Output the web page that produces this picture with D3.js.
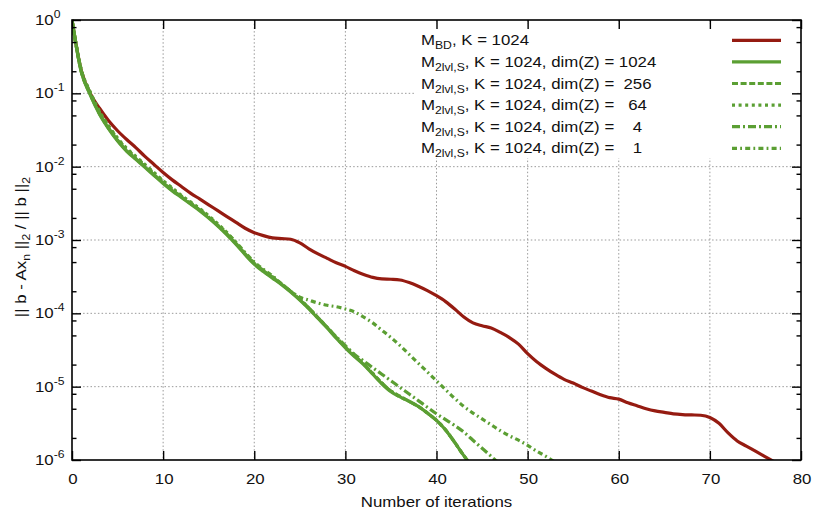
<!DOCTYPE html>
<html>
<head>
<meta charset="utf-8">
<script src="https://cdn.jsdelivr.net/npm/d3@7"></script>
<style>
  body { margin: 0; background: #fff; }
  text { font-family: "Liberation Sans", Arial, Helvetica, sans-serif; white-space: pre; fill: #111; }
</style>
</head>
<body>
<div id="chart"></div>
<script>
// Số liệu: log10 của phần dư tương đối theo từng bước lặp
const bdExp = [0, -0.68, -1.0, -1.2, -1.37, -1.51, -1.63, -1.74, -1.86, -1.97,
  -2.08, -2.18, -2.27, -2.36, -2.44, -2.52, -2.6, -2.68, -2.76, -2.84,
  -2.9, -2.94, -2.97, -2.98, -2.99, -3.04, -3.12, -3.19, -3.25, -3.31,
  -3.36, -3.42, -3.47, -3.51, -3.53, -3.535, -3.545, -3.58, -3.63, -3.69,
  -3.76, -3.84, -3.94, -4.05, -4.13, -4.17, -4.2, -4.26, -4.33, -4.42,
  -4.55, -4.66, -4.75, -4.83, -4.9, -4.95, -5.01, -5.06, -5.11, -5.15,
  -5.17, -5.22, -5.26, -5.3, -5.33, -5.35, -5.37, -5.38, -5.385, -5.39,
  -5.42, -5.5, -5.63, -5.74, -5.81, -5.88, -5.95, -6.02];
const dim1024Exp = [0, -0.7, -1.02, -1.28, -1.48, -1.65, -1.79, -1.9, -2.01, -2.12,
  -2.23, -2.33, -2.42, -2.51, -2.6, -2.7, -2.81, -2.93, -3.06, -3.2,
  -3.33, -3.43, -3.52, -3.61, -3.71, -3.82, -3.94, -4.07, -4.2, -4.34,
  -4.47, -4.59, -4.7, -4.83, -4.96, -5.07, -5.14, -5.2, -5.27, -5.36,
  -5.46, -5.59, -5.76, -5.94, -6.1];
const dim256Exp = [0, -0.69, -1.01, -1.27, -1.47, -1.64, -1.78, -1.89, -2.0, -2.11,
  -2.22, -2.32, -2.41, -2.5, -2.59, -2.69, -2.8, -2.92, -3.05, -3.19,
  -3.32, -3.42, -3.51, -3.6, -3.7, -3.81, -3.93, -4.06, -4.19, -4.33,
  -4.46, -4.58, -4.69, -4.82, -4.95, -5.06, -5.13, -5.2, -5.27, -5.36,
  -5.46, -5.59, -5.76, -5.94, -6.1];
const dim64Exp = [0, -0.67, -0.98, -1.24, -1.44, -1.61, -1.75, -1.86, -1.97, -2.08,
  -2.19, -2.29, -2.39, -2.48, -2.57, -2.67, -2.78, -2.9, -3.04, -3.18,
  -3.31, -3.41, -3.5, -3.6, -3.7, -3.81, -3.93, -4.06, -4.19, -4.33,
  -4.46, -4.58, -4.69, -4.82, -4.95, -5.06, -5.14, -5.2, -5.27, -5.36,
  -5.46, -5.59, -5.76, -5.94, -6.1];
const dim4Exp = [0, -0.69, -1.01, -1.27, -1.47, -1.64, -1.78, -1.89, -2.0, -2.11,
  -2.22, -2.32, -2.41, -2.5, -2.59, -2.69, -2.8, -2.92, -3.05, -3.19,
  -3.32, -3.42, -3.51, -3.6, -3.7, -3.81, -3.93, -4.06, -4.19, -4.32,
  -4.44, -4.56, -4.65, -4.74, -4.83, -4.92, -5.01, -5.1, -5.19, -5.28,
  -5.37, -5.45, -5.53, -5.62, -5.73, -5.84, -5.95, -6.06];
const dim1Exp = [0, -0.67, -0.99, -1.25, -1.45, -1.62, -1.76, -1.87, -1.98, -2.09,
  -2.2, -2.3, -2.4, -2.49, -2.58, -2.68, -2.79, -2.9, -3.03, -3.17,
  -3.3, -3.4, -3.49, -3.6, -3.7, -3.78, -3.82, -3.86, -3.89, -3.91,
  -3.94, -3.98, -4.05, -4.13, -4.23, -4.33, -4.44, -4.56, -4.68, -4.8,
  -4.92, -5.04, -5.16, -5.27, -5.36, -5.44, -5.52, -5.6, -5.67, -5.73,
  -5.8, -5.88, -5.95, -6.03];

// Nhãn chú giải
const legendSubs = ['BD', '2lvl,S', '2lvl,S', '2lvl,S', '2lvl,S', '2lvl,S'];
const legendRest = [', K = 1024', ', K = 1024, dim(Z) = 1024', ', K = 1024, dim(Z) =  256',
  ', K = 1024, dim(Z) =   64', ', K = 1024, dim(Z) =    4', ', K = 1024, dim(Z) =    1'];

// Nhãn trục
const xTicks = [0, 10, 20, 30, 40, 50, 60, 70, 80];
const yTicks = [1, 1e-1, 1e-2, 1e-3, 1e-4, 1e-5, 1e-6];
const yTickExp = ['0', '-1', '-2', '-3', '-4', '-5', '-6'];
const minorFactors = [2, 5, 8];

const RED = '#951b11', GREEN = '#5b9f33';
const series = [
  { exp: bdExp, color: RED, dash: null },
  { exp: dim1024Exp, color: GREEN, dash: null },
  { exp: dim256Exp, color: GREEN, dash: '6,2.6' },
  { exp: dim64Exp, color: GREEN, dash: '3,3.6' },
  { exp: dim4Exp, color: GREEN, dash: '8,3,2,3' },
  { exp: dim1Exp, color: GREEN, dash: '5,3.2,1.8,3.2' },
];

const W = 830, H = 515;
const L = 72, R = 801, T = 20, B = 460;
const FS = 14.5, SX = 1.16; // phông hơi giãn ngang giống bản gốc

const svg = d3.select('#chart').append('svg').attr('width', W).attr('height', H);

const x = d3.scaleLinear().domain([0, 80]).range([L, R]);
const y = d3.scaleLog().domain([1e-6, 1]).range([B, T]);

// Lưới chấm
const grid = svg.append('g').attr('stroke', '#9a9a9a').attr('stroke-width', 1).attr('stroke-dasharray', '1.5,2.2');
grid.selectAll('.gx').data(xTicks.slice(1, -1)).enter().append('line')
  .attr('x1', d => x(d)).attr('x2', d => x(d)).attr('y1', T).attr('y2', B);
grid.selectAll('.gy').data(yTicks.slice(1, -1)).enter().append('line')
  .attr('x1', L).attr('x2', R).attr('y1', d => y(d)).attr('y2', d => y(d));

// Nền trắng của chú giải
svg.append('rect').attr('x', 414).attr('y', 24).attr('width', 381).attr('height', 134).attr('fill', '#fff');

// Các đường cong
const clip = svg.append('clipPath').attr('id', 'plot-clip');
clip.append('rect').attr('x', L).attr('y', T - 2).attr('width', R - L).attr('height', B - T + 2);
const line = d3.line()
  .x((d, i) => x(i))
  .y(d => y(10 ** d))
  .curve(d3.curveMonotoneX);
const curves = svg.append('g').attr('clip-path', 'url(#plot-clip)');
series.forEach(s => {
  curves.append('path')
    .attr('d', line(s.exp))
    .attr('fill', 'none')
    .attr('stroke', s.color)
    .attr('stroke-width', 3.2)
    .attr('stroke-linejoin', 'round')
    .attr('stroke-dasharray', s.dash);
});

// Trục và vạch chia
const minorVals = [];
yTicks.slice(0, -1).forEach(t => minorFactors.forEach(f => minorVals.push(t / 10 * f)));
function styleAxis(g) {
  g.select('.domain').remove();
  g.selectAll('line').attr('stroke', '#000').attr('stroke-width', 1.4);
}
svg.append('g').attr('transform', `translate(0,${B})`)
  .call(d3.axisBottom(x).tickValues(xTicks).tickSize(-9).tickFormat('')).call(styleAxis);
svg.append('g').attr('transform', `translate(0,${T})`)
  .call(d3.axisTop(x).tickValues(xTicks).tickSize(-9).tickFormat('')).call(styleAxis);
svg.append('g').attr('transform', `translate(${L},0)`)
  .call(d3.axisLeft(y).tickValues(yTicks).tickSize(-9).tickFormat('')).call(styleAxis);
svg.append('g').attr('transform', `translate(${R},0)`)
  .call(d3.axisRight(y).tickValues(yTicks).tickSize(-9).tickFormat('')).call(styleAxis);
svg.append('g').attr('transform', `translate(${L},0)`)
  .call(d3.axisLeft(y).tickValues(minorVals).tickSize(-4.5).tickFormat('')).call(styleAxis);
svg.append('g').attr('transform', `translate(${R},0)`)
  .call(d3.axisRight(y).tickValues(minorVals).tickSize(-4.5).tickFormat('')).call(styleAxis);

svg.append('rect').attr('x', L).attr('y', T).attr('width', R - L).attr('height', B - T)
  .attr('fill', 'none').attr('stroke', '#000').attr('stroke-width', 1.6);

// Hàm tạo chữ có giãn ngang
function label(px, py, anchor, rotate) {
  return svg.append('g')
    .attr('transform', `translate(${px},${py})${rotate ? ' rotate(-90)' : ''} scale(${SX},1)`)
    .append('text').attr('text-anchor', anchor).attr('font-size', FS);
}

// Nhãn trục x
xTicks.forEach(t => label(x(t) + 1, 484, 'middle').text(t));

// Nhãn trục y dạng 10^k
yTicks.forEach((t, i) => {
  const tx = label(35, y(t) + 5, 'start');
  tx.append('tspan').text('10');
  tx.append('tspan').attr('font-size', 10.5).attr('dy', -7).text(yTickExp[i]);
});

// Tên trục
label(x(40), 507, 'middle').text('Number of iterations');
const yt = label(26, 247, 'middle', true);
yt.append('tspan').text('|| b - Ax');
yt.append('tspan').attr('font-size', 10.5).attr('dy', 3.5).text('n');
yt.append('tspan').attr('dy', -3.5).text(' ||');
yt.append('tspan').attr('font-size', 10.5).attr('dy', 3.5).text('2');
yt.append('tspan').attr('dy', -3.5).text(' / || b ||');
yt.append('tspan').attr('font-size', 10.5).attr('dy', 3.5).text('2');

// Chú giải
const rowY = d3.scaleLinear().domain([0, 5]).range([40.3, 148.3]);
series.forEach((s, i) => {
  const ry = rowY(i);
  const tx = label(421, ry + 5, 'start');
  tx.append('tspan').text('M');
  tx.append('tspan').attr('font-size', 10.5).attr('dy', 4).text(legendSubs[i]);
  tx.append('tspan').attr('dy', -4).text(legendRest[i]);
  svg.append('line')
    .attr('x1', 732).attr('x2', 781).attr('y1', ry).attr('y2', ry)
    .attr('stroke', s.color).attr('stroke-width', 3.2)
    .attr('stroke-dasharray', s.dash);
});
</script>
</body>
</html>
